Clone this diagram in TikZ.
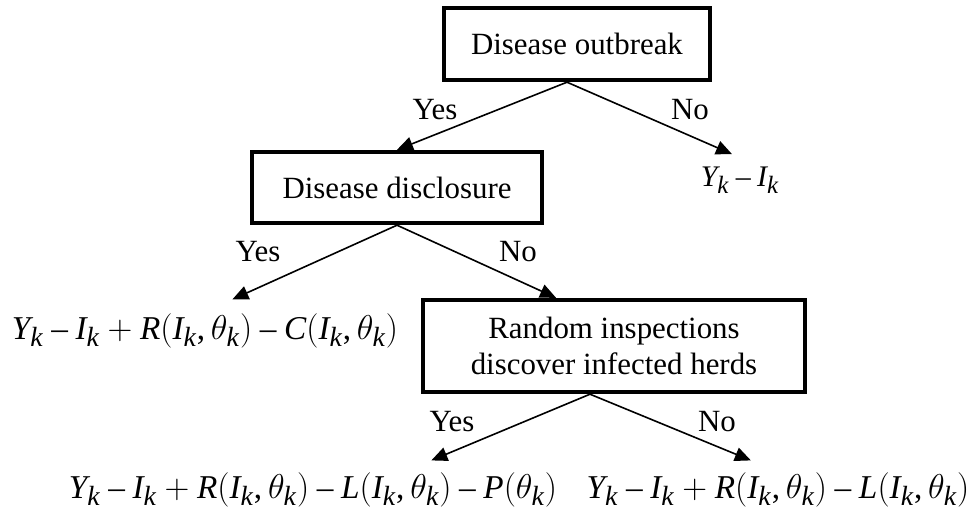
\documentclass[tikz,border=0pt]{standalone}
\usepackage{fontspec}
\setmainfont{Liberation Serif}
\usepackage{amsmath}
\usepackage[italic]{mathastext}
\usetikzlibrary{arrows.meta,positioning,calc}

\tikzset{
  decbox/.style={draw, line width=2.2bp, align=center, inner sep=0pt},
  leaf/.style={inner sep=1bp, font=\fontsize{16.7}{20}\selectfont},
  lbl/.style={inner sep=0pt},
  branch/.style={-{Triangle[length=8bp,width=7bp]}, line width=0.8bp}
}

\begin{document}
\begin{tikzpicture}[x=0.5bp, y=-0.5bp, every node/.style={font=\fontsize{15.5}{18.5}\selectfont}]
  \useasboundingbox (0,0) rectangle (974,515);
  % decision boxes
  \node[decbox, minimum width=133bp, minimum height=36bp] (out) at (577,44) {Disease outbreak};
  \node[decbox, minimum width=145bp, minimum height=35.5bp] (disc) at (397,187.5) {Disease disclosure};
  \node[decbox, minimum width=191bp, minimum height=46bp] (insp) at (614,346) {Random inspections\\discover infected herds};
  % payoffs
  \node[leaf, font=\fontsize{15}{18}\selectfont] (p1) at (740,180) {$Y_k - I_k$};
  \node[leaf] (p2) at (205,331) {$Y_k - I_k + R(I_k, \theta_k) - C(I_k, \theta_k)$};
  \node[leaf] (p3) at (313,490) {$Y_k - I_k + R(I_k, \theta_k) - L(I_k, \theta_k) - P(\theta_k)$};
  \node[leaf] (p4) at (778,490) {$Y_k - I_k + R(I_k, \theta_k) - L(I_k, \theta_k)$};
  % branches
  \draw[branch] ([xshift=-5bp]out.south) -- (disc.north);
  \draw[branch] ([xshift=-5bp]out.south) -- ([xshift=-4bp,yshift=5bp]p1.north);
  \draw[branch] (disc.south) -- ([yshift=6bp]$(p2.north west)!0.57!(p2.north east)$);
  \draw[branch] (disc.south) -- ($(insp.north west)!0.35!(insp.north east)$);
  \draw[branch] ([xshift=-12bp]insp.south) -- ([yshift=5bp]$(p3.north west)!0.74!(p3.north east)$);
  \draw[branch] ([xshift=-12bp]insp.south) -- ([yshift=5bp]$(p4.north west)!0.43!(p4.north east)$);
  % yes / no labels
  \node[lbl] (y1) at (435,110) {Yes};
  \node[lbl] (n1) at (690,110) {No};
  \node[lbl] (y2) at (258,252) {Yes};
  \node[lbl] (n2) at (518,252) {No};
  \node[lbl] (y3) at (452,422) {Yes};
  \node[lbl] (n3) at (717,422) {No};
\end{tikzpicture}
\end{document}
